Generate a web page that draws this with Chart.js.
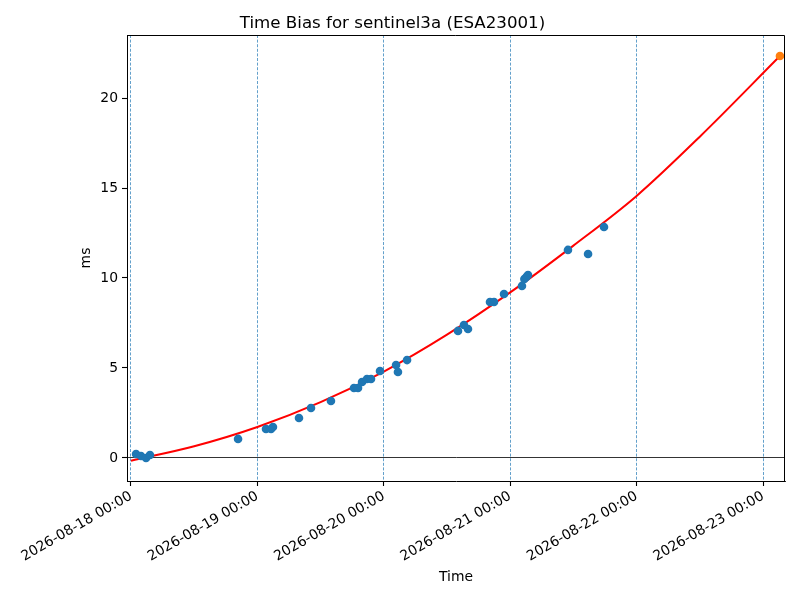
<!DOCTYPE html>
<html>
<head>
<meta charset="utf-8">
<script src="https://cdn.jsdelivr.net/npm/chart.js@4.4.1/dist/chart.umd.min.js"></script>
<style>
  html, body { margin: 0; padding: 0; background: #fff; }
  #wrap { width: 800px; height: 600px; }
</style>
</head>
<body>
<div id="wrap"><canvas id="c" width="800" height="600"></canvas></div>
<script>
// Days since 2026-08-18 00:00 for each observation
const obsDays = [0.040, 0.079, 0.119, 0.150, 0.847, 1.068, 1.108, 1.123, 1.329, 1.424,
  1.582, 1.764, 1.796, 1.828, 1.867, 1.899, 1.970, 2.097, 2.112, 2.184,
  2.587, 2.634, 2.666, 2.840, 2.872, 2.951, 3.093, 3.112, 3.128, 3.141,
  3.457, 3.616, 3.742];
// Observed time bias (ms)
const obsBias = [0.22, 0.11, 0.00, 0.17, 1.06, 1.61, 1.61, 1.72, 2.22, 2.78,
  3.17, 3.89, 3.89, 4.22, 4.39, 4.39, 4.83, 5.17, 4.78, 5.44,
  7.06, 7.39, 7.17, 8.67, 8.67, 9.11, 9.56, 9.94, 10.06, 10.17,
  11.56, 11.33, 12.83];
// Fitted model curve (days, ms)
const fitDays = [0, 0.5, 1, 1.5, 2, 2.5, 3, 3.5, 4, 4.5, 5.134];
const fitBias = [-0.15, 0.65, 1.72, 3.1, 4.8, 6.85, 9.2, 11.8, 14.56, 17.85, 22.33];
// Predicted point
const predDays = [5.134];
const predBias = [22.33];
// Tick labels for the day ticks
const xTickLabels = ['2026-08-18 00:00', '2026-08-19 00:00', '2026-08-20 00:00',
  '2026-08-21 00:00', '2026-08-22 00:00', '2026-08-23 00:00'];
const yTicks = [0, 5, 10, 15, 20];
const titleText = 'Time Bias for sentinel3a (ESA23001)';

const toXY = (xs, ys) => xs.map((x, i) => ({x: x, y: ys[i]}));

const framePlugin = {
  id: 'frame',
  afterDraw(chart) {
    const a = chart.chartArea, ctx = chart.ctx;
    ctx.save();
    ctx.strokeStyle = '#000';
    ctx.lineWidth = 1;
    ctx.beginPath();
    const t = Math.round(a.top) + 0.5, r = Math.round(a.right) - 0.5;
    ctx.moveTo(a.left, t);
    ctx.lineTo(r, t);
    ctx.lineTo(r, a.bottom);
    ctx.stroke();
    ctx.restore();
  }
};

const FONT = "'DejaVu Sans', sans-serif";

new Chart(document.getElementById('c'), {
  type: 'scatter',
  data: {
    datasets: [
      {
        type: 'scatter',
        data: toXY(predDays, predBias),
        backgroundColor: '#ff7f0e',
        borderColor: '#ff7f0e',
        pointRadius: 4.3,
        pointBorderWidth: 0,
        order: 0
      },
      {
        type: 'scatter',
        data: toXY(obsDays, obsBias),
        backgroundColor: '#1f77b4',
        borderColor: '#1f77b4',
        pointRadius: 4.3,
        pointBorderWidth: 0,
        order: 1
      },
      {
        type: 'line',
        data: toXY(fitDays, fitBias),
        borderColor: '#ff0000',
        borderWidth: 2,
        pointRadius: 0,
        fill: false,
        cubicInterpolationMode: 'monotone',
        order: 2
      }
    ]
  },
  options: {
    responsive: false,
    animation: false,
    devicePixelRatio: 1,
    layout: { padding: { left: 0, right: 15, top: 0, bottom: 0 } },
    plugins: {
      legend: { display: false },
      tooltip: { enabled: false },
      title: {
        display: true,
        text: titleText,
        color: '#000',
        font: { family: FONT, size: 16.67, weight: 'normal' },
        padding: { top: 14, bottom: 1 }
      }
    },
    scales: {
      x: {
        type: 'linear',
        min: -0.0316,
        max: 5.174,
        afterFit(s) { s.height = 119; },
        grid: {
          display: true,
          color: '#1f77b4',
          lineWidth: 0.7,
          drawTicks: true,
          tickLength: 5,
          tickColor: '#000',
          tickWidth: 1.1
        },
        border: { display: true, color: '#000', width: 1, dash: [3, 1.6] },
        ticks: {
          stepSize: 1,
          includeBounds: false,
          autoSkip: false,
          minRotation: 30,
          maxRotation: 30,
          padding: 2,
          color: '#000',
          font: { family: FONT, size: 13.9 },
          callback: (v) => {
            const i = Math.round(v);
            return Math.abs(v - i) < 1e-6 && i >= 0 && i < xTickLabels.length ? xTickLabels[i] : '';
          }
        },
        title: {
          display: true,
          text: 'Time',
          color: '#000',
          font: { family: FONT, size: 13.9 },
          padding: { top: 0, bottom: 14 }
        }
      },
      y: {
        type: 'linear',
        min: -1.278,
        max: 23.5,
        afterFit(s) { s.width = 127; },
        afterBuildTicks(s) { s.ticks = yTicks.map(v => ({value: v})); },
        grid: {
          display: true,
          color: (ctx) => (ctx.tick && ctx.tick.value === 0 ? '#000' : 'rgba(0,0,0,0)'),
          lineWidth: 0.8,
          drawTicks: true,
          tickLength: 5,
          tickColor: '#000',
          tickWidth: 1.1
        },
        border: { display: true, color: '#000', width: 1 },
        ticks: {
          padding: 4,
          color: '#000',
          font: { family: FONT, size: 13.9 }
        },
        title: {
          display: true,
          text: 'ms',
          color: '#000',
          font: { family: FONT, size: 13.9 },
          padding: { top: 78, bottom: 0 }
        }
      }
    }
  },
  plugins: [framePlugin]
});
</script>
</body>
</html>
